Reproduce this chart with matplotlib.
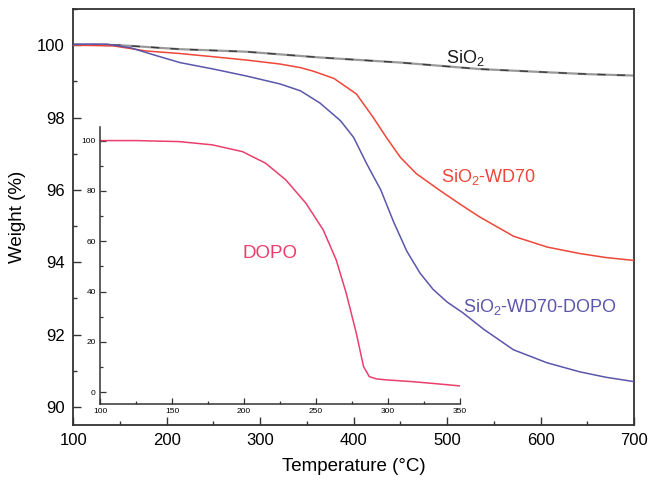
import matplotlib
matplotlib.use('Agg')
import matplotlib.pyplot as plt
from matplotlib.ticker import MultipleLocator

plt.rcParams['font.family'] = ['Liberation Sans', 'DejaVu Sans']
plt.rcParams['mathtext.fontset'] = 'custom'
plt.rcParams['mathtext.rm'] = 'Liberation Sans'
plt.rcParams['mathtext.it'] = 'Liberation Sans'
plt.rcParams['mathtext.default'] = 'regular'

# ---- data ----
temp_sio2 = [100, 150, 214, 285, 364, 450, 535, 600, 650, 700]
w_sio2 = [100.02, 100.0, 99.89, 99.82, 99.66, 99.52, 99.34, 99.26, 99.2, 99.16]

temp_wd70 = [100, 143, 178, 214, 250, 285, 321, 343, 357, 379, 403, 421, 435, 450, 467,
             492, 513, 535, 571, 607, 642, 670, 700]
w_wd70 = [100.0, 99.98, 99.84, 99.77, 99.68, 99.59, 99.48, 99.38, 99.28, 99.08, 98.65, 98.0,
          97.45, 96.9, 96.45, 95.99, 95.62, 95.25, 94.72, 94.42, 94.24, 94.13, 94.05]

temp_dopo_mix = [100, 115, 136, 161, 189, 214, 250, 285, 321, 343, 364, 386, 400, 414, 429,
                 443, 457, 471, 485, 500, 517, 539, 571, 607, 642, 670, 700]
w_dopo_mix = [100.02, 100.03, 100.03, 99.93, 99.71, 99.52, 99.34, 99.15, 98.93, 98.74, 98.40,
              97.91, 97.45, 96.72, 96.0, 95.1, 94.3, 93.7, 93.25, 92.9, 92.6, 92.15,
              91.58, 91.22, 90.97, 90.82, 90.70]

temp_dopo = [100, 125, 155, 178, 199, 215, 229, 243, 255, 264, 271, 278, 283, 287, 292, 299,
             317, 335, 350]
w_dopo = [100, 100, 99.6, 98.3, 95.6, 91.0, 84.4, 75.1, 64.5, 52.6, 39.3, 23.4, 10.2, 6.2,
          5.3, 4.9, 4.2, 3.3, 2.5]

main_xlim = (100, 700)
main_ylim = (89.5, 101.0)
inset_xlim = (100, 350)
inset_ylim = (-4.8, 105.4)

# ---- figure ----
fig = plt.figure(figsize=(6.54, 4.93), dpi=100)
ax = fig.add_axes([0.1121, 0.1379, 0.8573, 0.8438])

spine_col = '#333333'
red = '#ee4638'
blue = '#5a56ac'
pink = '#ea3f6c'

ax.plot(temp_sio2, w_sio2, color='#9a9a9a', lw=1.6, zorder=2)
ax.plot(temp_sio2, w_sio2, color='#3a3a3a', lw=1.0, ls=(0, (6, 8)), zorder=3)
ax.plot(temp_wd70, w_wd70, color=red, lw=1.1, zorder=3)
ax.plot(temp_dopo_mix, w_dopo_mix, color=blue, lw=1.1, zorder=3)

ax.set_xlim(*main_xlim)
ax.set_ylim(*main_ylim)
ax.xaxis.set_major_locator(MultipleLocator(100))
ax.xaxis.set_minor_locator(MultipleLocator(50))
ax.yaxis.set_major_locator(MultipleLocator(2))
ax.yaxis.set_minor_locator(MultipleLocator(1))
ax.tick_params(which='both', direction='in', color=spine_col, width=1.0,
               top=False, right=False)
ax.tick_params(which='major', length=6, labelsize=12, pad=6)
ax.tick_params(which='minor', length=3)
for s in ax.spines.values():
    s.set_color(spine_col)
    s.set_linewidth(1.3)

ax.set_xlabel('Temperature (°C)', fontsize=13.5)
ax.set_ylabel('Weight (%)', fontsize=13.5)
ax.xaxis.set_label_coords(0.5, -0.08)
ax.yaxis.set_label_coords(-0.084, 0.5)

ax.text(499, 99.51, 'SiO$_2$', color='#1a1a1a', fontsize=13, ha='left', va='baseline')
ax.text(493.4, 96.21, 'SiO$_2$-WD70', color=red, fontsize=13, ha='left', va='baseline')
ax.text(517, 92.63, 'SiO$_2$-WD70-DOPO', color=blue, fontsize=13, ha='left', va='baseline')

# ---- inset ----
ins = fig.add_axes([0.1529, 0.1799, 0.5505, 0.5625])
ins.patch.set_alpha(0)
ins.plot(temp_dopo, w_dopo, color=pink, lw=1.1)
ins.set_xlim(*inset_xlim)
ins.set_ylim(*inset_ylim)
ins.xaxis.set_major_locator(MultipleLocator(50))
ins.xaxis.set_minor_locator(MultipleLocator(25))
ins.yaxis.set_major_locator(MultipleLocator(20))
ins.yaxis.set_minor_locator(MultipleLocator(10))
ins.spines['top'].set_visible(False)
ins.spines['right'].set_visible(False)
for s in ('left', 'bottom'):
    ins.spines[s].set_color(spine_col)
    ins.spines[s].set_linewidth(1.1)
ins.tick_params(which='both', direction='in', color=spine_col, width=0.9)
ins.tick_params(which='major', length=4, labelsize=6, pad=3)
ins.tick_params(which='minor', length=2)
ins.text(199.3, 53.3, 'DOPO', color=pink, fontsize=13.5, ha='left', va='baseline')

fig.savefig('out.png', dpi=100)
